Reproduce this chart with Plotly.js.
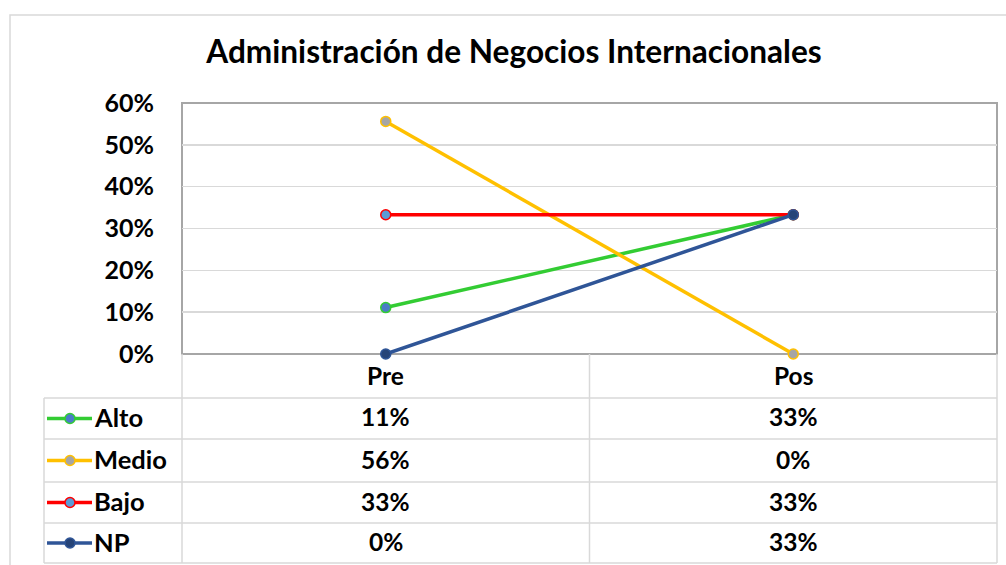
<!DOCTYPE html>
<html>
<head>
<meta charset="utf-8">
<script src="https://cdn.plot.ly/plotly-3.0.1.min.js"></script>
<style>html,body{margin:0;padding:0;background:#fff;}#chart{width:1006px;height:565px;}</style>
</head>
<body>
<div id="chart"></div>
<script>
const categories = ['Pre', 'Pos'];
const seriesNames = ['Alto', 'Medio', 'Bajo', 'NP'];
const alto = [0.111, 0.333];
const medio = [0.556, 0.0];
const bajo = [0.333, 0.333];
const np = [0.0, 0.333];
const yTickVals = [0, 0.1, 0.2, 0.3, 0.4, 0.5, 0.6];
const titleText = 'Administración de Negocios Internacionales';

const seriesValues = [alto, medio, bajo, np];
const lineColors = ['#33CC33', '#FFC000', '#FF0000', '#2F5597'];
const markerFills = ['#4A7CC7', '#A5A5A5', '#5B9BD5', '#264478'];

const W = 1006, H = 565;
const px = v => v / W;
const py = v => 1 - v / H;
const FONT = 'Lato, "Open Sans", sans-serif';

const plotL = 182, plotR = 997, plotT = 103, plotB = 354;
const rowLines = [398, 439, 482, 523, 563];
const tableL = 44;
const TFS = 24.5;

const traces = seriesValues.map((vals, i) => ({
  type: 'scatter', mode: 'lines+markers',
  x: categories, y: vals, name: seriesNames[i],
  line: {color: lineColors[i], width: 3.5},
  marker: {size: 10, color: markerFills[i], line: {color: lineColors[i], width: 1.5}},
  cliponaxis: false, hoverinfo: 'skip'
}));

const shapes = [];
const annotations = [];
const gray = '#D9D9D9';

shapes.push({type: 'rect', xref: 'paper', yref: 'paper', x0: px(10), x1: px(1012), y0: py(570), y1: py(15),
  line: {color: '#D9D9D9', width: 1.5}});
shapes.push({type: 'rect', xref: 'paper', yref: 'paper', x0: px(plotL), x1: px(plotR), y0: py(plotB), y1: py(plotT),
  line: {color: '#A6A6A6', width: 2}, layer: 'below'});

rowLines.forEach(r => {
  shapes.push({type: 'line', xref: 'paper', yref: 'paper', x0: px(tableL), x1: px(plotR), y0: py(r), y1: py(r),
    line: {color: gray, width: 1.5}});
});
shapes.push({type: 'line', xref: 'paper', yref: 'paper', x0: px(tableL), x1: px(tableL), y0: py(rowLines[0]), y1: py(563), line: {color: gray, width: 1.5}});
shapes.push({type: 'line', xref: 'paper', yref: 'paper', x0: px(plotL), x1: px(plotL), y0: py(plotB), y1: py(563), line: {color: gray, width: 1.5}});
shapes.push({type: 'line', xref: 'x', yref: 'paper', x0: 0.5, x1: 0.5, y0: py(plotB), y1: py(563), line: {color: gray, width: 1.5}});
shapes.push({type: 'line', xref: 'paper', yref: 'paper', x0: px(plotR), x1: px(plotR), y0: py(plotB), y1: py(563), line: {color: gray, width: 1.5}});

categories.forEach((c, j) => {
  annotations.push({xref: 'x', yref: 'paper', x: j, y: py(375), text: c, showarrow: false,
    font: {family: FONT, size: TFS, color: '#000', weight: 'bold'}, xanchor: 'center', yanchor: 'middle'});
});

seriesNames.forEach((name, i) => {
  const top = rowLines[i], bot = rowLines[i + 1];
  const cy = (top + bot) / 2;
  shapes.push({type: 'line', xref: 'paper', yref: 'paper', x0: px(47), x1: px(92), y0: py(cy), y1: py(cy),
    line: {color: lineColors[i], width: 3.5}});
  shapes.push({type: 'circle', xref: 'paper', yref: 'paper', x0: px(65), x1: px(75), y0: py(cy + 5), y1: py(cy - 5),
    fillcolor: markerFills[i], line: {color: lineColors[i], width: 1.5}});
  annotations.push({xref: 'paper', yref: 'paper', x: px(92), y: py(cy - 1.5), text: name, showarrow: false,
    font: {family: FONT, size: TFS + 1, color: '#000', weight: 'bold'}, xanchor: 'left', yanchor: 'middle'});
  seriesValues[i].forEach((v, j) => {
    annotations.push({xref: 'x', yref: 'paper', x: j, y: py(cy - 1.5), text: Math.round(v * 100) + '%', showarrow: false,
      font: {family: FONT, size: TFS, color: '#000', weight: 'bold'}, xanchor: 'center', yanchor: 'middle'});
  });
});

const layout = {
  width: W, height: H,
  margin: {l: 0, r: 0, t: 0, b: 0},
  paper_bgcolor: '#fff', plot_bgcolor: '#fff',
  showlegend: false,
  title: {text: '<b>' + titleText + '</b>', x: px(514), xanchor: 'center', y: py(52), yanchor: 'middle',
    font: {family: FONT, size: 31.6, color: '#000'}},
  xaxis: {domain: [px(plotL), px(plotR)], range: [-0.5, 1.5], type: 'category',
    showticklabels: false, showgrid: false, zeroline: false, showline: false, fixedrange: true},
  yaxis: {domain: [py(plotB), py(plotT)], range: [0, 0.6], tickvals: yTickVals, tickformat: '.0%',
    showgrid: true, gridcolor: '#D9D9D9', gridwidth: 1.5, zeroline: false, showline: false,
    ticks: '', ticklabelstandoff: 27,
    tickfont: {family: FONT, size: 25, color: '#000', weight: 'bold'}, fixedrange: true},
  shapes: shapes,
  annotations: annotations
};

Plotly.newPlot('chart', traces, layout, {staticPlot: true, displayModeBar: false});
</script>
</body>
</html>
